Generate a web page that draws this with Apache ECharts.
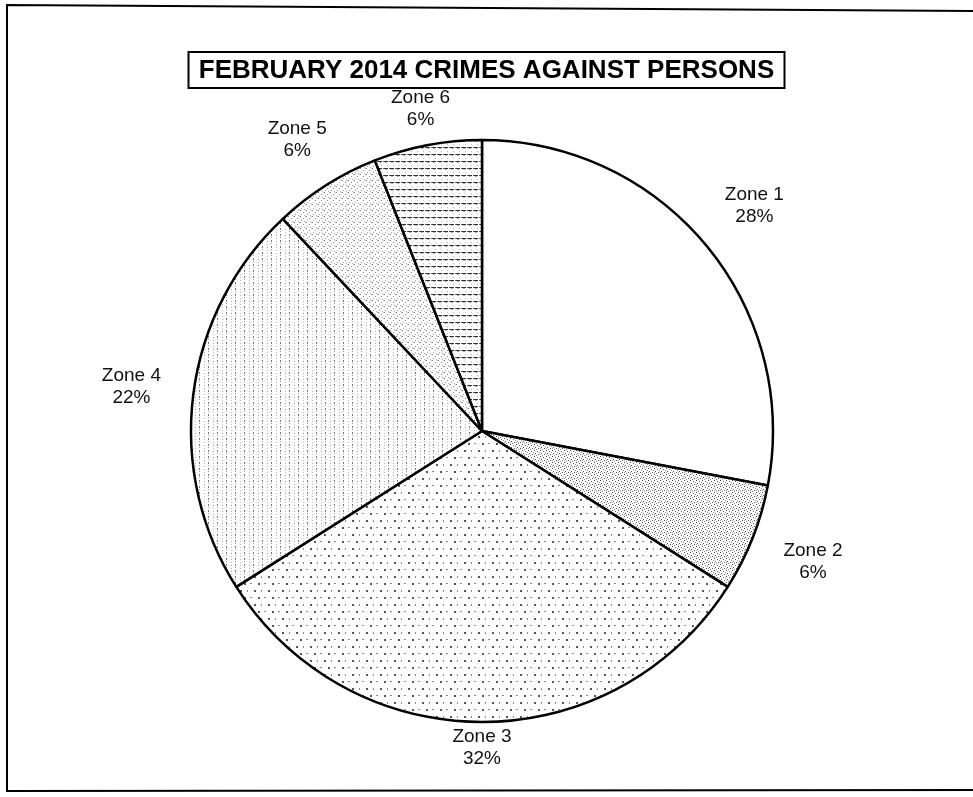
<!DOCTYPE html>
<html>
<head>
<meta charset="utf-8">
<script src="https://cdn.jsdelivr.net/npm/echarts@6/dist/echarts.min.js"></script>
<style>
  html, body { margin: 0; padding: 0; background: #fff; }
  #chart { width: 973px; height: 797px; }
</style>
</head>
<body>
<div id="chart"></div>
<script>
// 2014年2月 各区侵犯人身罪案占比
const zones = ['Zone 1', 'Zone 2', 'Zone 3', 'Zone 4', 'Zone 5', 'Zone 6']
const shares = [28, 6, 32, 22, 6, 6]

// small pattern tiles, like the printed Excel fills
function tile(w, h, dots) {
  const c = document.createElement('canvas')
  c.width = w
  c.height = h
  const ctx = c.getContext('2d')
  ctx.fillStyle = '#fff'
  ctx.fillRect(0, 0, w, h)
  dots.forEach(d => {
    ctx.fillStyle = d[4] || '#333'
    ctx.fillRect(d[0], d[1], d[2], d[3])
  })
  return { image: c, repeat: 'repeat' }
}

const fills = [
  '#fff',
  // fine grey stipple
  tile(6, 6, [[0, 0, 1, 1, '#444'], [3, 1, 1, 1, '#666'], [1, 3, 1, 1, '#555'], [4, 4, 1, 1, '#555'], [5, 2, 1, 1, '#999'], [2, 5, 1, 1, '#888'], [0, 4, 1, 1, '#aaa']]),
  // sparse small marks
  tile(14, 14, [[2, 2, 2, 2, '#555'], [9, 2, 1, 2, '#888'], [6, 9, 2, 2, '#555'], [12, 9, 2, 1, '#888']]),
  // vertical dotted columns
  tile(9, 6, [[1, 0, 1, 2, '#777'], [1, 3, 1, 1, '#999'], [6, 1, 1, 1, '#aaa'], [6, 4, 1, 1, '#bbb']]),
  // lighter stipple
  tile(6, 6, [[0, 0, 1, 1, '#777'], [3, 2, 1, 1, '#888'], [1, 4, 1, 1, '#999'], [4, 5, 1, 1, '#aaa'], [5, 0, 1, 1, '#bbb']]),
  // horizontal dashes
  tile(6, 7, [[0, 0, 4, 1, '#333'], [5, 0, 1, 1, '#666'], [1, 1, 2, 1, '#aaa'], [3, 4, 1, 1, '#bbb']])
]

const cx = 482
const cy = 431
const R = 291
const total = shares.reduce((a, b) => a + b, 0)

const myChart = echarts.init(document.getElementById('chart'))
const option = {
  animation: false,
  backgroundColor: '#fff',
  title: {
    text: 'FEBRUARY 2014 CRIMES AGAINST PERSONS',
    left: 'center',
    top: 52,
    padding: [6, 11, 4, 11],
    borderColor: '#000',
    borderWidth: 2,
    textStyle: {
      fontFamily: 'Liberation Sans',
      fontSize: 26,
      fontWeight: 'bold',
      color: '#000'
    }
  },
  graphic: [
    {
      type: 'polyline',
      shape: { points: [[975, 11], [7, 5], [7, 791], [975, 790]] },
      style: { stroke: '#000', lineWidth: 2, fill: null }
    }
  ],
  series: [
    {
      type: 'pie',
      center: [cx, cy],
      radius: R,
      startAngle: 90,
      clockwise: true,
      avoidLabelOverlap: false,
      data: zones.map((z, i) => ({
        name: z,
        value: shares[i],
        itemStyle: { color: fills[i] }
      })),
      itemStyle: {
        borderColor: '#000',
        borderWidth: 2.5
      },
      label: {
        show: true,
        position: 'outside',
        formatter: '{b}\n{d}%',
        fontFamily: 'Liberation Sans',
        fontSize: 19,
        lineHeight: 22,
        color: '#111'
      },
      labelLine: { show: false },
      // centre each label on the mid-angle of its slice, just off the rim
      labelLayout: function (p) {
        const i = p.dataIndex
        let before = 0
        for (let k = 0; k < i; k++) before += shares[k]
        const mid = (before + shares[i] / 2) / total * Math.PI * 2
        const ux = Math.sin(mid)
        const uy = -Math.cos(mid)
        const ax = Math.abs(ux)
        const ay = Math.abs(uy)
        const w = p.labelRect.width
        const h = p.labelRect.height
        const d = R + 30 * ax + 4 * ay + (w / 2) * ax + (h / 2) * ay
        return {
          x: cx + ux * d,
          y: cy + uy * d,
          align: 'center',
          verticalAlign: 'middle'
        }
      },
      emphasis: { disabled: true }
    }
  ]
}
option && myChart.setOption(option)
</script>
</body>
</html>
